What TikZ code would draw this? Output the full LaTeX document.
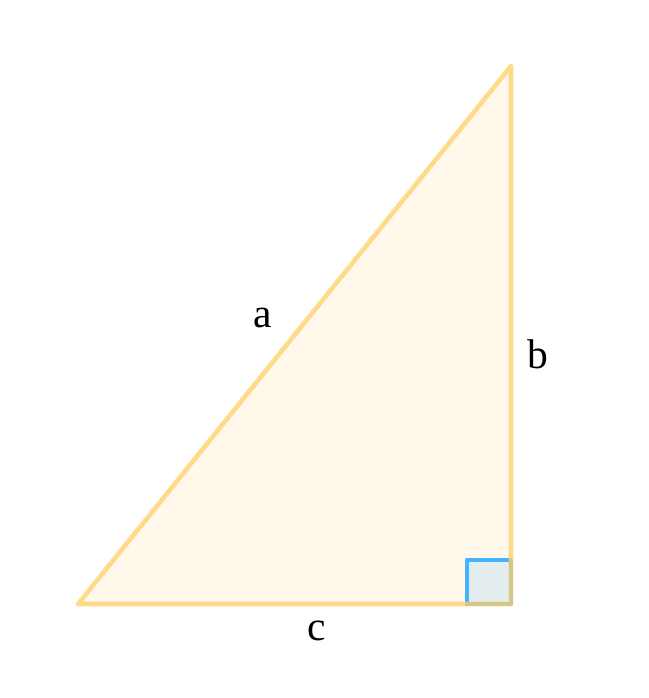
\documentclass[tikz,border=0pt]{standalone}
\usepackage{fontspec}
\setmainfont{Liberation Serif}
\usetikzlibrary{calc}

\definecolor{edgeyellow}{HTML}{FFCF66}
\definecolor{fillyellow}{HTML}{FFF8EB}
\definecolor{markblue}{HTML}{45B4FF}
\definecolor{markfill}{HTML}{E4EEF0}

\begin{document}
\begin{tikzpicture}[x=0.01cm,y=-0.01cm]
  % Fix the page to the reference size
  \useasboundingbox (0,0) rectangle (648,698);

  % Corners of the right triangle
  \coordinate (A) at (78,604);
  \coordinate (C) at (511,604);
  \coordinate (B) at (511,66);

  % Fill the triangle
  \fill[fillyellow] (A) -- (C) -- (B) -- cycle;

  % Mark the right angle at C
  \def\side{44}
  \filldraw[markfill,draw=markblue,line width=1.3pt,line join=round]
    (C) rectangle ($(C)+(-\side,-\side)$);

  % Draw the edges on top
  \draw[edgeyellow,opacity=0.75,line width=1.3pt,line join=round,line cap=round]
    (A) -- (C) -- (B) -- cycle;

  % Name the sides
  \node[font=\fontsize{11.8}{13}\selectfont] (la) at (263,318) {a};
  \node[font=\fontsize{11.8}{13}\selectfont] (lb) at (538,354) {b};
  \node[font=\fontsize{11.8}{13}\selectfont] (lc) at (317,631) {c};
\end{tikzpicture}
\end{document}
